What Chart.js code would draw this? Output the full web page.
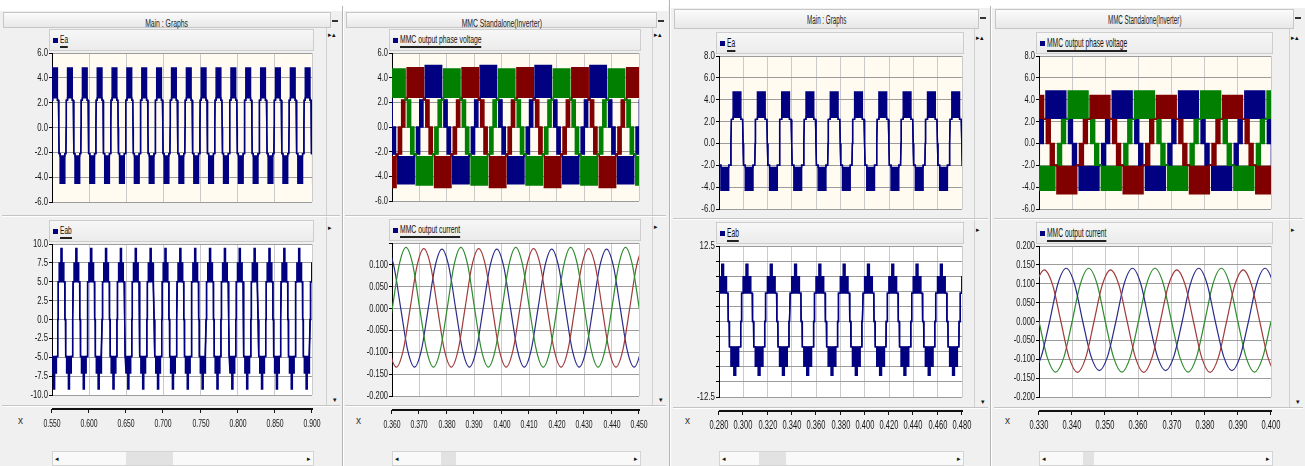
<!DOCTYPE html>
<html>
<head>
<meta charset="utf-8">
<script src="https://cdn.jsdelivr.net/npm/chart.js@4.4.1/dist/chart.umd.min.js"></script>
<style>
  body { margin: 0; background: #f0f0f0; }
  #page { position: relative; width: 1305px; height: 466px; overflow: hidden; background: #f0f0f0;
          font-family: 'Liberation Sans', Arial, sans-serif; color: #111; }
  #page div, #page canvas, #page span { position: absolute; }
  .white { background: #fff; }
  .vsep { width: 1px; background: #b4b4b4; border-right: 1px solid #fff; }
  .hsep { height: 1px; background: #c4c4c4; border-bottom: 1px solid #fff; }
  .title { background: linear-gradient(#fbfbfb, #e8e8e8); border: 1px solid #c6c6c6; text-align: center; color: #222; }
  #page .title span { position: static; display: inline-block; white-space: nowrap; }
  .btn { width: 6px; height: 2px; background: #333; }
  .legend { background: linear-gradient(#f7f7f7, #ebebeb); border: 1px solid #cdcdcd; }
  .legend .mk { width: 5px; height: 5px; background: #000080; }
  .legend .lab { white-space: nowrap; border-bottom: 2px solid #222; transform-origin: left top; color: #111; }
  .strip { border-left: 1px solid #d0d0d0; }
  .glyph { font-size: 7px; color: #111; line-height: 7px; }
  .hscroll { background: #f9f9f9; border: 1px solid #d4d4d4; }
  .thumb { background: #e2e2e2; top: 0; bottom: 0; }
  .xlab { font-size: 10px; line-height: 12px; color: #333; }
</style>
</head>
<body>
<div id="page"></div>
<script>
// ---- values ----
const period = 0.02; // 50 Hz

// time axes (s)
const c1Time = [0.55, 0.60, 0.65, 0.70, 0.75, 0.80, 0.85, 0.90];
const c2Time = [0.36, 0.37, 0.38, 0.39, 0.40, 0.41, 0.42, 0.43, 0.44, 0.45];
const c3Time = [0.28, 0.30, 0.32, 0.34, 0.36, 0.38, 0.40, 0.42, 0.44, 0.46, 0.48];
const c4Time = [0.33, 0.34, 0.35, 0.36, 0.37, 0.38, 0.39, 0.40];

// value axes
const c1EaTicks = [-6, -4, -2, 0, 2, 4, 6];
const c1EabTicks = [-10, -7.5, -5, -2.5, 0, 2.5, 5, 7.5, 10];
const c2VTicks = [-6, -4, -2, 0, 2, 4, 6];
const c2ITicks = [-0.2, -0.15, -0.1, -0.05, 0, 0.05, 0.1, 0.15];
const c2ILabels = ['-0.200', '-0.150', '-0.100', '-0.050', '0.000', '0.050', '0.100', ''];
const c3EaTicks = [-6, -4, -2, 0, 2, 4, 6, 8];
const c3EabTicks = [-12.5, -10, -7.5, -5, -2.5, 0, 2.5, 5, 7.5, 10, 12.5];
const c3EabLabels = ['-12.5', '', '', '', '', '', '', '', '', '', '12.5'];
const c4VTicks = [-6, -4, -2, 0, 2, 4, 6, 8];
const c4ITicks = [-0.2, -0.15, -0.1, -0.05, 0, 0.05, 0.1, 0.15, 0.2];

// one period of a phase staircase: [phase, upper edge level, lower edge level]
// levels: 0 zero, 1 shelf+, 2 block top+, 3 block low+, 4 shelf-, 5 block top-, 6 block low-
const phaseShape = [
  [0.00, 0, 0], [0.02, 1, 1], [0.09, 1, 1], [0.09, 2, 3], [0.41, 2, 3], [0.41, 1, 1], [0.48, 1, 1],
  [0.50, 0, 0], [0.52, 4, 4], [0.59, 4, 4], [0.59, 5, 6], [0.91, 5, 6], [0.91, 4, 4], [0.98, 4, 4],
  [1.00, 0, 0]
];
// three-phase output, switching fuzz also around the zero crossings
const threePhaseShape = [
  [0.00, 0, 0], [0.00, 1, 0], [0.06, 1, 0], [0.06, 1, 1], [0.10, 1, 1], [0.10, 2, 3], [0.40, 2, 3],
  [0.40, 1, 1], [0.44, 1, 1], [0.44, 1, 0], [0.50, 1, 0], [0.50, 0, 4], [0.56, 0, 4], [0.56, 4, 4],
  [0.60, 4, 4], [0.60, 5, 6], [0.90, 5, 6], [0.90, 4, 4], [0.94, 4, 4], [0.94, 0, 4], [1.00, 0, 4],
  [1.00, 0, 0]
];
// line-to-line staircase: levels 0 zero, 1 shelf+, 2 block+, 3 peak+, 4 shelf-, 5 block-, 6 peak-
const lineShape = [
  [0.00, 0, 0], [0.02, 0, 0], [0.03, 1, 1], [0.09, 1, 1], [0.09, 2, 1], [0.21, 2, 1], [0.21, 3, 1],
  [0.29, 3, 1], [0.29, 2, 1], [0.41, 2, 1], [0.41, 1, 1], [0.47, 1, 1], [0.48, 0, 0], [0.52, 0, 0],
  [0.53, 4, 4], [0.59, 4, 4], [0.59, 4, 5], [0.71, 4, 5], [0.71, 4, 6], [0.79, 4, 6], [0.79, 4, 5],
  [0.91, 4, 5], [0.91, 4, 4], [0.97, 4, 4], [0.98, 0, 0], [1.00, 0, 0]
];
// current: [phase, fraction of peak]
const sineShape = [[0, 0], [0.125, 0.71], [0.25, 1], [0.375, 0.71], [0.5, 0], [0.625, -0.71], [0.75, -1], [0.875, -0.71]];

// column 1: Ea, Eab
const c1EaLevels = [0, 2.2, 4.8, 2.4, -2.1, -2.3, -4.5];
const c1EaStarts = [0.5291, 0.5491, 0.5691, 0.5891, 0.6091, 0.6291, 0.6491, 0.6691, 0.6891, 0.7091,
  0.7291, 0.7491, 0.7691, 0.7891, 0.8091, 0.8291, 0.8491, 0.8691, 0.8891];
const c1EabLevels = [0, 5.0, 7.5, 9.4, -4.9, -7.1, -9.2];
const c1EabStarts = [0.5378, 0.5578, 0.5778, 0.5978, 0.6178, 0.6378, 0.6578, 0.6778, 0.6978, 0.7178,
  0.7378, 0.7578, 0.7778, 0.7978, 0.8178, 0.8378, 0.8578, 0.8778, 0.8978];

// column 2: MMC phase voltages and currents (green, red, blue)
const c2GreenLevels = [0, 2.2, 4.7, 2.4, -2.2, -2.4, -4.7];
const c2RedLevels = [0, 2.2, 4.8, 2.4, -2.2, -2.4, -4.9];
const c2BlueLevels = [0, 2.2, 5.0, 2.4, -2.2, -2.4, -4.6];
const c2GreenStarts = [0.3368, 0.3568, 0.3768, 0.3968, 0.4168, 0.4368];
const c2RedStarts = [0.3235, 0.3435, 0.3635, 0.3835, 0.4035, 0.4235, 0.4435];
const c2BlueStarts = [0.3301, 0.3501, 0.3701, 0.3901, 0.4101, 0.4301, 0.4501];
const c2GreenAmp = [0.140, 0.134];
const c2RedAmp = [0.137, 0.134];
const c2BlueAmp = [0.136, 0.134];
const c2GreenIStarts = [0.3401, 0.3601, 0.3801, 0.4001, 0.4201, 0.4401, 0.4601];
const c2RedIStarts = [0.3466, 0.3666, 0.3866, 0.4066, 0.4266, 0.4466];
const c2BlueIStarts = [0.3332, 0.3532, 0.3732, 0.3932, 0.4132, 0.4332, 0.4532];

// column 3: Ea, Eab
const c3EaLevels = [0, 2.2, 4.7, 2.4, -2.0, -2.2, -4.3];
const c3EaStarts = [0.2698, 0.2898, 0.3098, 0.3298, 0.3498, 0.3698, 0.3898, 0.4098, 0.4298, 0.4498, 0.4698];
const c3EabLevels = [0, 4.7, 7.4, 9.5, -4.2, -7.4, -8.9];
const c3EabStarts = [0.2580, 0.2780, 0.2980, 0.3180, 0.3380, 0.3580, 0.3780, 0.3980, 0.4180, 0.4380, 0.4580, 0.4780];

// column 4: MMC phase voltages and currents
const c4BlueLevels = [0, 2.2, 4.8, 2.3, -2.0, -2.1, -4.3];
const c4GreenLevels = [0, 2.2, 4.8, 2.3, -2.0, -2.1, -4.3];
const c4RedLevels = [0, 2.2, 4.4, 2.3, -2.0, -2.1, -4.6];
const c4BlueStarts = [0.3101, 0.3301, 0.3501, 0.3701, 0.3901];
const c4GreenStarts = [0.3168, 0.3368, 0.3568, 0.3768, 0.3968];
const c4RedStarts = [0.3034, 0.3234, 0.3434, 0.3634, 0.3834];
const c4RedAmp = [0.137, 0.135];
const c4BlueAmp = [0.141, 0.130];
const c4GreenAmp = [0.141, 0.134];
const c4RedIStarts = [0.3066, 0.3266, 0.3466, 0.3666, 0.3866];
const c4BlueIStarts = [0.3132, 0.3332, 0.3532, 0.3732, 0.3932];
const c4GreenIStarts = [0.3000, 0.3200, 0.3400, 0.3600, 0.3800, 0.4000];

// ---- drawing ----
const SANS = "'Liberation Sans', Arial, sans-serif";
Chart.defaults.font.family = SANS;
const NAVY = '#000080', GREEN = '#007f00', MAROON = '#800000';
const page = document.getElementById('page');

function px(v) { return v + 'px'; }
function add(cls, x, y, w, h, html) {
  const d = document.createElement('div');
  d.className = cls;
  Object.assign(d.style, { left: px(x), top: px(y), width: px(w), height: px(h) });
  if (html) d.innerHTML = html;
  page.appendChild(d);
  return d;
}

function stepSets(shape, levels, starts, color) {
  const hi = [], lo = [];
  starts.forEach(t0 => shape.forEach(([ph, a, b]) => {
    hi.push({ x: t0 + ph * period, y: levels[a] });
    lo.push({ x: t0 + ph * period, y: levels[b] });
  }));
  return [
    { data: hi, borderColor: color, backgroundColor: color, fill: '+1', borderWidth: 1.4 },
    { data: lo, borderColor: color, fill: false, borderWidth: 1.4 }
  ];
}

function sineSet(amp, starts, color) {
  const pts = [];
  starts.forEach(t0 => sineShape.forEach(([ph, k]) => {
    pts.push({ x: t0 + ph * period, y: k * (k >= 0 ? amp[0] : amp[1]) });
  }));
  return { data: pts, borderColor: color, borderWidth: 1.2, fill: false, cubicInterpolationMode: 'monotone' };
}

// the screenshots use tall, narrow lettering: squeeze the tick text sideways
function narrowText(ctx, text, x, y, size, sx, align) {
  ctx.save();
  ctx.translate(x, y);
  ctx.scale(sx, 1);
  ctx.font = `${size}px ${SANS}`;
  ctx.textAlign = align;
  ctx.textBaseline = 'middle';
  ctx.fillText(text, 0, 0);
  ctx.restore();
}

const plotFrame = {
  id: 'plotFrame',
  beforeDraw(chart, args, o) {
    const { ctx, chartArea: a } = chart;
    ctx.save();
    ctx.fillStyle = o.bg;
    ctx.fillRect(a.left, a.top, a.right - a.left, a.bottom - a.top);
    ctx.restore();
  },
  afterDraw(chart, args, o) {
    const { ctx, chartArea: a } = chart;
    const xs = chart.scales.x, ys = chart.scales.y;
    ctx.save();
    ctx.fillStyle = '#151515';
    ys.ticks.forEach(t => {
      if (t.label) narrowText(ctx, t.label, ys.right - 4, ys.getPixelForValue(t.value), o.yFont, o.ySx, 'right');
    });
    if (o.axisLine) {
      const y = a.bottom + 14;
      ctx.fillStyle = '#111';
      ctx.fillRect(xs.left, y - 1, xs.right - xs.left + 1, 2);
      xs.ticks.forEach(t => {
        const x = Math.round(xs.getPixelForValue(t.value));
        ctx.fillStyle = '#111';
        ctx.fillRect(x - 1, y, 1, 4);
        ctx.fillStyle = '#151515';
        narrowText(ctx, t.label, x, a.bottom + 29, o.xFont, o.xSx, 'center');
      });
    }
    ctx.restore();
  }
};

function addChart(p, slot, datasets, yTicks, yLabels, yDigits) {
  const [plotT, plotB] = slot === 'top' ? p.top : p.bottom;
  const isBottom = slot === 'bottom';
  const padT = 8, padB = isBottom ? 2 : 8, axisH = isBottom ? 38 : 0, yW = 46, padR = 14;
  const cv = document.createElement('canvas');
  cv.width = p.plotR - p.plotL + yW + padR;
  cv.height = plotB - plotT + padT + padB + axisH;
  cv.style.left = px(p.plotL - yW);
  cv.style.top = px(plotT - padT);
  page.appendChild(cv);
  new Chart(cv, {
    type: 'line',
    data: { datasets },
    options: {
      responsive: false,
      animation: false,
      events: [],
      layout: { padding: { top: padT, right: padR, bottom: padB, left: 0 } },
      elements: { point: { radius: 0 } },
      plugins: {
        legend: { display: false },
        tooltip: { enabled: false },
        plotFrame: {
          bg: isBottom ? '#ffffff' : '#fffbf0', axisLine: isBottom,
          xFont: p.xFont[0], xSx: p.xFont[1], yFont: p.yFont[0], ySx: p.yFont[1]
        }
      },
      scales: {
        x: {
          type: 'linear', min: p.time[0], max: p.time[p.time.length - 1],
          afterBuildTicks: s => { s.ticks = p.time.map(v => ({ value: v })); },
          afterFit: s => { s.height = axisH; s.paddingLeft = 0; s.paddingRight = 0; },
          border: { display: false },
          grid: { color: '#cacaca', drawTicks: false },
          ticks: { display: false, callback: v => v.toFixed(3) }
        },
        y: {
          type: 'linear', min: yTicks[0], max: yTicks[yTicks.length - 1],
          afterBuildTicks: s => { s.ticks = yTicks.map(v => ({ value: v })); },
          afterFit: s => { s.width = yW; },
          border: { color: '#000', width: 1 },
          grid: { color: '#9c9c9c', tickColor: '#000', tickLength: 3 },
          ticks: { display: false, callback: (v, i) => yLabels ? yLabels[i] : v.toFixed(yDigits) }
        }
      }
    },
    plugins: [plotFrame]
  });
}

// panel layout (screen positions)
const panels = [
  { x0: 0, x1: 342, title: 'Main : Graphs', titleTop: 12, titleH: 14, titleFont: [11, 0.62],
    plotL: 52, plotR: 312, top: [53, 202], bottom: [244, 395], leg: [29, 220], legFont: [11, 0.6],
    time: c1Time, xFont: [11, 0.62], yFont: [11, 0.7], sepY: 215, axSepY: 405, xl: 18, thumb: [125, 47] },
  { x0: 343, x1: 668, title: 'MMC Standalone(Inverter)', titleTop: 12, titleH: 14, titleFont: [11, 0.62],
    plotL: 392, plotR: 639, top: [53, 201], bottom: [243, 396], leg: [29, 219], legFont: [11, 0.62],
    time: c2Time, xFont: [11, 0.62], yFont: [11, 0.68], sepY: 215, axSepY: 405, xl: 356, thumb: [440, 15] },
  { x0: 671, x1: 990, title: 'Main : Graphs', titleTop: 9, titleH: 18, titleFont: [12, 0.52],
    plotL: 719, plotR: 962, top: [56, 209], bottom: [246, 397], leg: [32, 222], legFont: [12, 0.56],
    time: c3Time, xFont: [12.5, 0.6], yFont: [11, 0.72], sepY: 218, axSepY: 407, xl: 685, thumb: [758, 27] },
  { x0: 992, x1: 1305, title: 'MMC Standalone(Inverter)', titleTop: 9, titleH: 18, titleFont: [12, 0.52],
    plotL: 1039, plotR: 1271, top: [56, 209], bottom: [246, 397], leg: [32, 222], legFont: [12, 0.56],
    time: c4Time, xFont: [12.5, 0.6], yFont: [11, 0.68], sepY: 218, axSepY: 407, xl: 1005, thumb: [1082, 11] }
];
const legendNames = [['Ea', 'Eab'], ['MMC output phase voltage', 'MMC output current'],
  ['Ea', 'Eab'], ['MMC output phase voltage', 'MMC output current']];

add('white', 0, 0, 1305, 6);
panels.forEach((p, k) => {
  const w = p.x1 - p.x0;
  add('white', p.x0, 0, w, p.titleTop - 1);
  add('title', p.x0 + 3, p.titleTop, w - 16, p.titleH,
    `<span style="font-size:${p.titleFont[0]}px;line-height:${p.titleH}px;transform:scaleX(${p.titleFont[1]})">${p.title}</span>`);
  add('btn', p.x1 - 10, p.titleTop + 8, 6, 2);
  add('strip', p.x1 - 16, p.titleTop + p.titleH + 2, 14, p.axSepY - p.titleTop - p.titleH - 2);
  add('glyph', p.x1 - 14, p.leg[0] + 2, 8, 8, '▸▴');
  add('glyph', p.x1 - 14, p.leg[1] + 4, 8, 8, '▸');
  add('glyph', p.x1 - 9, p.axSepY - 9, 8, 8, '▾');
  add('hsep', p.x0 + 2, p.sepY, w - 4, 1);
  add('hsep', p.x0 + 2, p.axSepY, w - 4, 1);
  [0, 1].forEach(j => {
    const lg = add('legend', p.plotL - 3, p.leg[j], p.plotR - p.plotL + 3, 20);
    lg.innerHTML = `<span class="mk" style="left:3px;top:8px"></span>` +
      `<span class="lab" style="left:10px;top:3px;font-size:${p.legFont[0]}px;line-height:${p.legFont[0] + 2}px;` +
      `transform:scaleX(${p.legFont[1]})">${legendNames[k][j]}</span>`;
  });
  add('xlab', p.xl, 415, 10, 12, 'x');
  const sb = add('hscroll', p.plotL, 451, p.plotR - p.plotL, 13);
  sb.innerHTML = `<div class="thumb" style="left:${p.thumb[0] - p.plotL}px;width:${p.thumb[1]}px"></div>` +
    `<span class="glyph" style="left:2px;top:3px">◂</span><span class="glyph" style="right:2px;top:3px">▸</span>`;
});
add('vsep', 342, 6, 1, 460);
add('vsep', 669, 0, 1, 466);
add('vsep', 990, 6, 1, 460);

const [p1, p2, p3, p4] = panels;
addChart(p1, 'top', stepSets(phaseShape, c1EaLevels, c1EaStarts, NAVY), c1EaTicks, null, 1);
addChart(p1, 'bottom', stepSets(lineShape, c1EabLevels, c1EabStarts, NAVY), c1EabTicks, null, 1);
addChart(p2, 'top', [
  ...stepSets(threePhaseShape, c2GreenLevels, c2GreenStarts, GREEN),
  ...stepSets(threePhaseShape, c2RedLevels, c2RedStarts, MAROON),
  ...stepSets(threePhaseShape, c2BlueLevels, c2BlueStarts, NAVY)
], c2VTicks, null, 1);
addChart(p2, 'bottom', [
  sineSet(c2GreenAmp, c2GreenIStarts, '#2e8b2e'),
  sineSet(c2RedAmp, c2RedIStarts, '#a03a3a'),
  sineSet(c2BlueAmp, c2BlueIStarts, '#2a2a8a')
], c2ITicks, c2ILabels, 3);
addChart(p3, 'top', stepSets(phaseShape, c3EaLevels, c3EaStarts, NAVY), c3EaTicks, null, 1);
addChart(p3, 'bottom', stepSets(lineShape, c3EabLevels, c3EabStarts, NAVY), c3EabTicks, c3EabLabels, 1);
addChart(p4, 'top', [
  ...stepSets(threePhaseShape, c4RedLevels, c4RedStarts, MAROON),
  ...stepSets(threePhaseShape, c4GreenLevels, c4GreenStarts, GREEN),
  ...stepSets(threePhaseShape, c4BlueLevels, c4BlueStarts, NAVY)
], c4VTicks, null, 1);
addChart(p4, 'bottom', [
  sineSet(c4RedAmp, c4RedIStarts, '#a03a3a'),
  sineSet(c4BlueAmp, c4BlueIStarts, '#2a2a8a'),
  sineSet(c4GreenAmp, c4GreenIStarts, '#2e8b2e')
], c4ITicks, null, 3);
</script>
</body>
</html>
